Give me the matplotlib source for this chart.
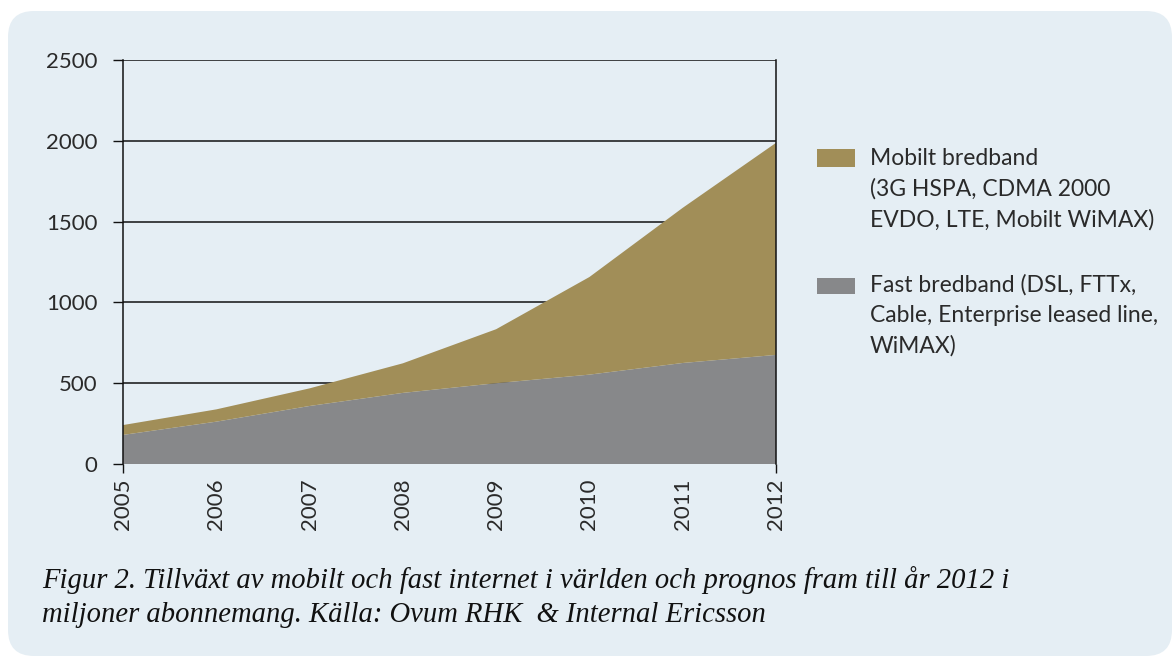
import matplotlib
matplotlib.use("Agg")
import matplotlib.pyplot as plt
from matplotlib.patches import FancyBboxPatch, Rectangle
from matplotlib.transforms import IdentityTransform

# Data (millions of subscriptions)
years = [2005, 2006, 2007, 2008, 2009, 2010, 2011, 2012]
fast = [180, 262, 359, 440, 500, 553, 625, 675]
mobilt = [61, 76, 109, 183, 334, 604, 960, 1312]
yticks = [0, 500, 1000, 1500, 2000, 2500]

gold = '#a18e58'
grey = '#87888a'
panel = '#e5eef4'

labels = ['Mobilt bredband\n(3G HSPA, CDMA 2000\nEVDO, LTE, Mobilt WiMAX)',
          'Fast bredband (DSL, FTTx,\nCable, Enterprise leased line,\nWiMAX)']
caption = ('Figur 2. Tillväxt av mobilt och fast internet i världen och prognos fram till år 2012 i\n'
           'miljoner abonnemang. Källa: Ovum RHK  & Internal Ericsson')

plt.rcParams['font.family'] = ['Lato', 'DejaVu Sans']

fig = plt.figure(figsize=(11.75, 6.59), dpi=100)
fig.patch.set_facecolor('white')

#rounded background panel, in pixels
bg = FancyBboxPatch((8, 3), 1164, 645, boxstyle="round,pad=0,rounding_size=26",
                    transform=IdentityTransform(), facecolor=panel, edgecolor='none', zorder=-5)
fig.patches.append(bg)

ax = fig.add_axes([0.1047, 0.2959, 0.5557, 0.6131])
ax.set_facecolor('none')

ax.stackplot(years, fast, mobilt, colors=[grey, gold], linewidth=0, zorder=3)

ax.set_xlim(2005, 2012)
ax.set_ylim(0, 2500)
ax.set_yticks(yticks)
ax.set_xticks(years)
ax.set_xticklabels([str(y) for y in years], rotation=90, fontsize=16, color='#2a2a2a')
ax.set_yticklabels([str(v) for v in yticks], fontsize=16, color='#2a2a2a')
ax.yaxis.grid(True, color='#111111', linewidth=1.1, zorder=1)
ax.set_axisbelow(True)

ax.tick_params(axis='y', length=7.5, width=1, color='#111111', pad=11)
ax.tick_params(axis='x', length=6.5, width=1, color='#111111', pad=4)
#only the end ticks on the x axis
for i, t in enumerate(ax.xaxis.get_major_ticks()):
    if 0 < i < len(years) - 1:
        t.tick1line.set_visible(False)

for s in ['top', 'bottom']:
    ax.spines[s].set_visible(False)
for s in ['left', 'right']:
    ax.spines[s].set_color('#111111')
    ax.spines[s].set_linewidth(1.1)
    ax.spines[s].set_zorder(4)

#legend drawn by hand
fig.patches.append(Rectangle((817, 659 - 167), 38, 18, transform=IdentityTransform(),
                             facecolor=gold, edgecolor='none'))
fig.patches.append(Rectangle((817, 659 - 294), 38, 16, transform=IdentityTransform(),
                             facecolor=grey, edgecolor='none'))
fig.text(870 / 1175, 1 - 148 / 659, labels[0], fontsize=16.5, va='top', ha='left',
         linespacing=1.54, color='#2a2a2a')
fig.text(870 / 1175, 1 - 274 / 659, labels[1], fontsize=16.5, va='top', ha='left',
         linespacing=1.54, color='#2a2a2a')

fig.text(42 / 1175, 1 - 566 / 659, caption, fontsize=20.6, va='top', ha='left',
         family='Liberation Serif', style='italic', linespacing=1.38, color='#111111')

fig.savefig('out.png', dpi=100, facecolor='white')
